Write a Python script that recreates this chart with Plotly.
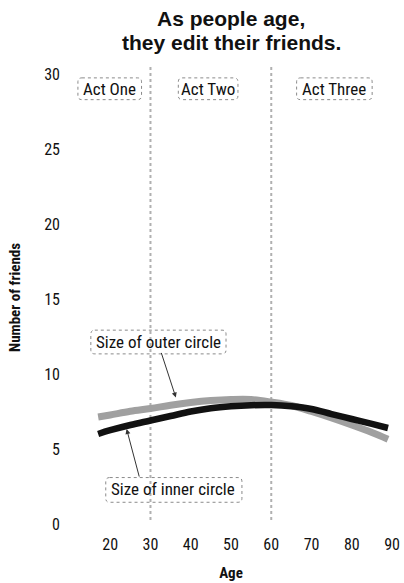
import plotly.graph_objects as go

# Ages sampled along both curves
ages = [17, 20, 25, 30, 35, 40, 45, 50, 55, 60, 65, 70, 75, 80, 85, 89]
# Number of friends in the inner circle (black curve)
inner_circle = [5.75, 6.0, 6.35, 6.65, 6.95, 7.25, 7.47, 7.6, 7.67, 7.68, 7.6, 7.42, 7.08, 6.75, 6.42, 6.15]
# Number of friends in the outer circle (grey curve)
outer_circle = [6.88, 7.02, 7.27, 7.45, 7.67, 7.85, 7.98, 8.05, 8.05, 7.88, 7.65, 7.25, 6.82, 6.35, 5.85, 5.4]

# Life stages, separated at these ages
act_labels = ["Act One", "Act Two", "Act Three"]
act_breaks = [30, 60]

x_ticks = [20, 30, 40, 50, 60, 70, 80, 90]
y_ticks = [0, 5, 10, 15, 20, 25, 30]

COND = "Roboto Condensed, Roboto, sans-serif"
BOLD = "Liberation Sans, Arial, Helvetica, sans-serif"

# Plot frame in pixels and its axis ranges
W, H = 404, 583
L, R, T, B = 64, 4, 67, 50
X0, X1 = 8.52, 91.48
Y0, Y1 = -0.53, 30.26
PW, PH = W - L - R, H - T - B


def px(x, y):
    """Pixel position -> data coordinates."""
    return X0 + (x - L) / PW * (X1 - X0), Y1 - (y - T) / PH * (Y1 - Y0)


def rounded_box(x0, y0, x1, y1, r=4):
    def p(x, y):
        a, b = px(x, y)
        return f"{a:.4f},{b:.4f}"
    d = (f"M{p(x0 + r, y0)} L{p(x1 - r, y0)} Q{p(x1, y0)} {p(x1, y0 + r)} "
         f"L{p(x1, y1 - r)} Q{p(x1, y1)} {p(x1 - r, y1)} L{p(x0 + r, y1)} "
         f"Q{p(x0, y1)} {p(x0, y1 - r)} L{p(x0, y0 + r)} Q{p(x0, y0)} {p(x0 + r, y0)} Z")
    return dict(type="path", path=d, xref="x", yref="y",
                line=dict(color="#8a8a8a", width=1, dash="dot"),
                fillcolor="rgba(255,255,255,0)", layer="above")


fig = go.Figure()

fig.add_trace(go.Scatter(x=ages, y=outer_circle, mode="lines",
                         line=dict(color="#a0a0a0", width=7, shape="spline"),
                         hoverinfo="skip", showlegend=False))
fig.add_trace(go.Scatter(x=ages, y=inner_circle, mode="lines",
                         line=dict(color="#111111", width=6.5, shape="spline"),
                         hoverinfo="skip", showlegend=False))

shapes = []
for b in act_breaks:
    shapes.append(dict(type="line", x0=b, x1=b, y0=0, y1=30.3, xref="x", yref="y",
                       line=dict(color="#b0b0b0", width=2, dash="dot"), layer="below"))

# label boxes (pixel extents)
boxes = [(78, 78, 142, 100), (179, 78, 239, 100), (298, 78, 374, 100),
         (91, 333, 227, 357), (106, 482, 243, 507)]
for bx in boxes:
    shapes.append(rounded_box(*bx))

annotations = []

# two-line headline above the plot
for line, cy in [("As people age,", 18), ("they edit their friends.", 42)]:
    annotations.append(dict(x=0.5, xref="paper", y=1 - (cy - T) / PH, yref="paper",
                            text=f"<b>{line}</b>", showarrow=False,
                            xanchor="center", yanchor="middle",
                            font=dict(family=BOLD, size=21, color="#111")))

act_centers = [(110, 89), (209, 89), (336, 89)]
for lab, (cx, cy) in zip(act_labels, act_centers):
    ax_, ay_ = px(cx, cy)
    annotations.append(dict(x=ax_, y=ay_, text=lab, showarrow=False,
                            font=dict(family=COND, size=17, color="#111")))

for lab, (cx, cy) in [("Size of outer circle", (159, 345)), ("Size of inner circle", (174, 494))]:
    ax_, ay_ = px(cx, cy)
    annotations.append(dict(x=ax_, y=ay_, text=lab, showarrow=False,
                            font=dict(family=COND, size=17, color="#111")))

# pointers from the labels to the curves
tx, ty = px(176.5, 401)
annotations.append(dict(x=tx, y=ty, ax=-15, ay=-46, text="", showarrow=True,
                        arrowhead=2, arrowsize=1, arrowwidth=1, arrowcolor="#333"))
tx, ty = px(127, 433)
annotations.append(dict(x=tx, y=ty, ax=13, ay=49, text="", showarrow=True,
                        arrowhead=2, arrowsize=1, arrowwidth=1, arrowcolor="#333"))

fig.update_layout(
    width=W, height=H,
    margin=dict(l=L, r=R, t=T, b=B),
    paper_bgcolor="white", plot_bgcolor="white",
    xaxis=dict(range=[X0, X1], tickvals=x_ticks, showgrid=False, zeroline=False,
               showline=False, ticks="", ticklabelstandoff=5,
               tickfont=dict(family=COND, size=16, color="#111"),
               title=dict(text="<b>Age</b>", font=dict(family=COND, size=15, color="#111"),
                          standoff=14)),
    yaxis=dict(range=[Y0, Y1], tickvals=y_ticks, showgrid=False, zeroline=False,
               showline=False, ticks="", ticklabelstandoff=3, ticklabelshift=4,
               tickfont=dict(family=COND, size=16, color="#111"),
               title=dict(text="<b>Number of friends</b>",
                          font=dict(family=COND, size=15, color="#111"), standoff=19)),
    shapes=shapes, annotations=annotations,
)

fig.write_html("out.html")
